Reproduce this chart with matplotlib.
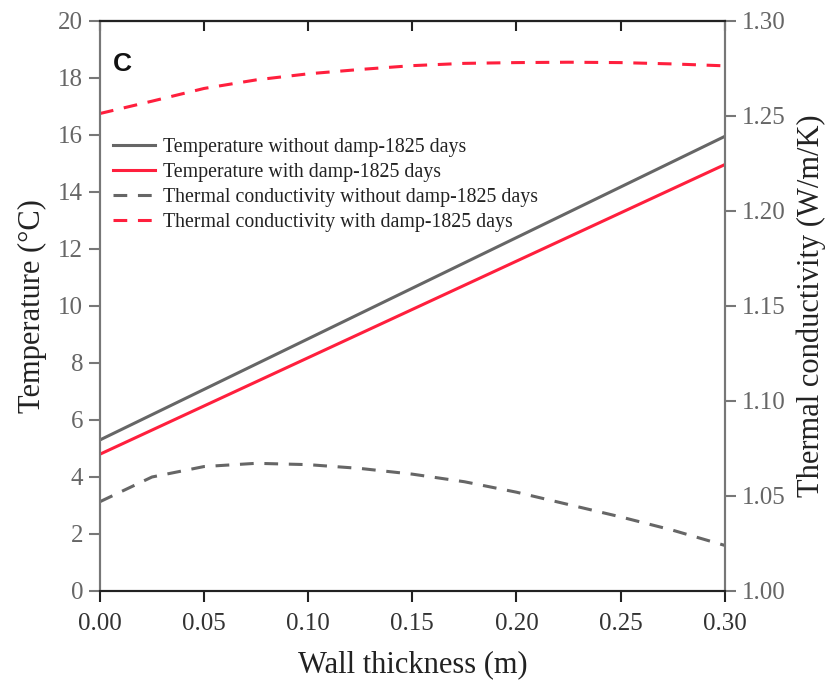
import matplotlib
matplotlib.use("Agg")
import matplotlib.pyplot as plt
import numpy as np

# Data
thickness = [0.000, 0.025, 0.050, 0.075, 0.100, 0.125, 0.150, 0.175, 0.200, 0.225, 0.250, 0.275, 0.300]
temp_x = [0.00, 0.30]
temp_without = [5.30, 15.95]
temp_with = [4.80, 14.96]
k_without = [1.0470, 1.0600, 1.0655, 1.0672, 1.0665, 1.0645, 1.0615, 1.0575, 1.0520, 1.0455, 1.0390, 1.0320, 1.0240]
k_with = [1.2513, 1.2578, 1.2645, 1.2690, 1.2722, 1.2745, 1.2765, 1.2777, 1.2781, 1.2783, 1.2781, 1.2774, 1.2764]
labels = ["Temperature without damp-1825 days",
          "Temperature with damp-1825 days",
          "Thermal conductivity without damp-1825 days",
          "Thermal conductivity with damp-1825 days"]
xticks = [0.00, 0.05, 0.10, 0.15, 0.20, 0.25, 0.30]
yticks_left = [0, 2, 4, 6, 8, 10, 12, 14, 16, 18, 20]
yticks_right = [1.00, 1.05, 1.10, 1.15, 1.20, 1.25, 1.30]

plt.rcParams['font.family'] = ['Liberation Serif', 'DejaVu Serif']
GRAY = '#666666'
RED = '#FF1F3D'
SP_GRAY = '#777777'
DARK = '#222222'

fig = plt.figure(figsize=(8.33, 6.86), dpi=100)
ax = fig.add_axes([0.120, 0.1385, 0.750, 0.8309])
ax2 = ax.twinx()

lw = 2.2
l1, = ax.plot(temp_x, temp_without, color=GRAY, lw=lw, label=labels[0])
l2, = ax.plot(temp_x, temp_with, color=RED, lw=lw, label=labels[1])
l3, = ax2.plot(thickness, k_without, color=GRAY, lw=lw, dashes=(4.5, 3.5), label=labels[2])
l4, = ax2.plot(thickness, k_with, color=RED, lw=lw, dashes=(4.5, 3.5), label=labels[3])

ax.set_xlim(0, 0.30)
ax.set_ylim(0, 20)
ax2.set_ylim(1.00, 1.30)
ax.set_xticks(xticks)
ax.set_xticklabels([f"{v:.2f}" for v in xticks])
ax.set_yticks(yticks_left)
ax2.set_yticks(yticks_right)
ax2.set_yticklabels([f"{v:.2f}" for v in yticks_right])

fs_tick = 18
ax.tick_params(axis='x', direction='out', length=8, width=1.5, color=DARK, labelsize=fs_tick, labelcolor='#333333', pad=8)
ax.tick_params(axis='y', direction='out', length=8, width=1.5, color=SP_GRAY, labelsize=fs_tick, labelcolor=GRAY, pad=4)
ax2.tick_params(axis='y', direction='out', length=8, width=1.5, color=SP_GRAY, labelsize=fs_tick, labelcolor=GRAY, pad=4)

for a in (ax, ax2):
    a.spines['top'].set_color(DARK)
    a.spines['bottom'].set_color(DARK)
    a.spines['left'].set_color(SP_GRAY)
    a.spines['right'].set_color(SP_GRAY)
    for s in a.spines.values():
        s.set_linewidth(1.5)

top = ax.secondary_xaxis('top')
top.set_xticks(xticks)
top.tick_params(direction='in', length=7, width=1.5, color=DARK, labeltop=False)
top.spines['top'].set_color(DARK)
top.spines['top'].set_linewidth(1.5)

ax.set_xlabel("Wall thickness (m)", fontsize=22, color='#222222', labelpad=11)
ax.set_ylabel("Temperature (°C)", fontsize=22, color='#222222', labelpad=8)
ax2.set_ylabel("Thermal conductivity (W/m/K)", fontsize=22, color='#222222', labelpad=8)

ax.text(0.021, 0.946, "C", transform=ax.transAxes, fontsize=19, fontweight='bold',
        family='Liberation Sans', va='top', ha='left', color='#111111')

leg = ax.legend(handles=[l1, l2, l3, l4], loc='upper left', bbox_to_anchor=(0.021, 0.795),
                frameon=False, fontsize=14.3, handlelength=2.1, handletextpad=0.4,
                labelspacing=0.3, borderpad=0, borderaxespad=0)
for t in leg.get_texts():
    t.set_color('#222222')

fig.savefig("out.png", dpi=100)
